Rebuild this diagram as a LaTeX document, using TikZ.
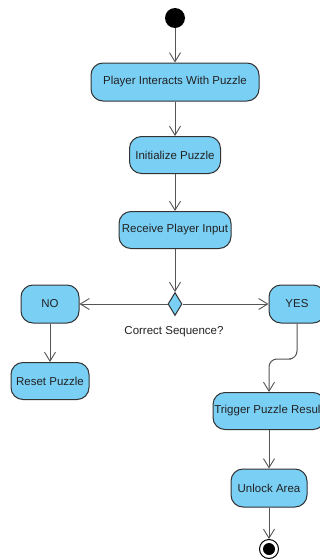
\documentclass[tikz,border=0pt]{standalone}
\usepackage{fontspec}
\setmainfont{Liberation Sans}
\usetikzlibrary{arrows.meta,shapes.geometric}
\definecolor{actfill}{HTML}{7ACFF5}
\definecolor{actline}{HTML}{333333}
\definecolor{flow}{HTML}{555555}
\definecolor{txt}{HTML}{222222}
\tikzset{
  labelfont/.style={font=\fontsize{11.5}{13}\selectfont, text=txt},
  action/.style={draw=actline, fill=actfill, line width=1pt, rounded corners=12pt,
    inner sep=0pt, labelfont, align=center},
  flowline/.style={draw=flow, line width=1pt,
    -{Straight Barb[length=9pt,width=11pt,line width=0.9pt]}},
  decision/.style={diamond, draw=actline, fill=actfill, line width=1pt,
    inner sep=0pt, minimum width=14pt, minimum height=23pt},
}
\begin{document}
\begin{tikzpicture}[x=1pt,y=1pt]
\useasboundingbox (0,0) rectangle (320,-560);
\fill[white] (0,0) rectangle (320,-560);
\clip (0,0) rectangle (320,-560);

% start and end
\node[circle, fill=black, minimum size=20pt, inner sep=0pt] (start) at (175,-18) {};
\node[circle, draw=black, fill=white, line width=1pt, minimum size=19pt, inner sep=0pt] (final) at (269,-549) {};
\fill[black] (final.center) circle (6pt);

% actions
\node[action, minimum width=168pt, minimum height=38pt] (interact) at (175,-82) {Player Interacts With Puzzle};
\node[action, minimum width=91pt, minimum height=37pt] (init) at (175,-155) {Initialize Puzzle};
\node[action, minimum width=112pt, minimum height=37pt] (input) at (175,-230) {Receive Player Input};
\node[decision] (check) at (175,-304) {};
\node[labelfont] (checklbl) at (174,-332) {Correct Sequence?};
\node[action, minimum width=58pt, minimum height=38pt] (no) at (50,-304) {NO};
\node[action, minimum width=56pt, minimum height=38pt] (yes) at (297,-304) {YES};
\node[action, minimum width=78pt, minimum height=37pt] (reset) at (50,-381) {Reset Puzzle};
\node[action, minimum width=112pt, minimum height=37pt] (trigger) at (269,-411) {Trigger Puzzle Result};
\node[action, minimum width=76pt, minimum height=38pt] (unlock) at (269,-488) {Unlock Area};

\coordinate (bend) at (283,-359);

% flows
\draw[flowline] (start) -- (interact);
\draw[flowline] (interact) -- (init);
\draw[flowline] (init) -- (input);
\draw[flowline] (input) -- (check);
\draw[flowline] (check) -- (no);
\draw[flowline] (check) -- (yes);
\draw[flowline] (no) -- (reset);
\draw[flowline, rounded corners=8pt] (yes.south) |- (bend) -| (trigger.north);
\draw[flowline] (trigger) -- (unlock);
\draw[flowline] (unlock) -- (final);
\end{tikzpicture}
\end{document}
